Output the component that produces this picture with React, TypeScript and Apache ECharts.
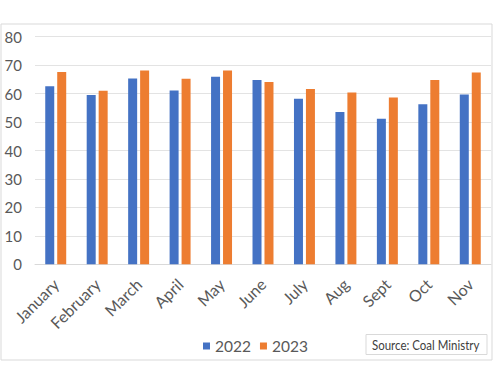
import React, { useEffect, useRef } from "react";
import * as echarts from "echarts";

const months = ["January", "February", "March", "April", "May", "June", "July", "Aug", "Sept", "Oct", "Nov"];
const values2022 = [62.6, 59.5, 65.3, 61.1, 65.9, 64.8, 58.2, 53.5, 51.2, 56.3, 59.7];
const values2023 = [67.6, 61.0, 68.1, 65.2, 68.1, 64.1, 61.6, 60.4, 58.6, 64.8, 67.4];
const yTicks = { min: 0, max: 80, interval: 10 };
const sourceText = "Source: Coal Ministry";

const FONT = "Lato, 'Open Sans', sans-serif";

export default function App() {
  const ref = useRef<HTMLDivElement>(null);
  useEffect(() => {
    if (!ref.current) return;
    const chart = echarts.init(ref.current, undefined, { renderer: "svg" });
    chart.setOption({
      animation: false,
      backgroundColor: "#ffffff",
      textStyle: { fontFamily: FONT },
      grid: { left: 35, right: 9, top: 36.7, bottom: 121.7, containLabel: false },
      legend: {
        data: ["2022", "2023"],
        left: 198,
        top: 333,
        icon: "rect",
        itemWidth: 7,
        itemHeight: 7,
        itemGap: 9,
        textStyle: { fontSize: 15.5, color: "#595959", fontFamily: FONT },
      },
      xAxis: {
        type: "category",
        data: months,
        axisLine: { show: true, lineStyle: { color: "#d9d9d9" } },
        axisTick: { show: false },
        axisLabel: { rotate: 45, color: "#595959", fontSize: 16, margin: 17, fontFamily: FONT, interval: 0 },
      },
      yAxis: {
        type: "value",
        min: yTicks.min,
        max: yTicks.max,
        interval: yTicks.interval,
        axisLine: { show: false },
        axisTick: { show: false },
        splitLine: { lineStyle: { color: "#e3e3e3" } },
        axisLabel: { color: "#595959", fontSize: 15, margin: 13, fontFamily: FONT },
      },
      series: [
        {
          name: "2022",
          type: "bar",
          data: values2022,
          barWidth: 9,
          barGap: "33%",
          itemStyle: { color: "#4472C4" },
        },
        {
          name: "2023",
          type: "bar",
          data: values2023,
          barWidth: 9,
          barGap: "33%",
          itemStyle: { color: "#ED7D31" },
        },
      ],
      graphic: [
        {
          type: "rect",
          shape: { x: 1, y: 24, width: 491, height: 336 },
          style: { fill: "none", stroke: "#d9d9d9", lineWidth: 1 },
          silent: true,
        },
        {
          type: "rect",
          shape: { x: 366, y: 334.5, width: 121, height: 20 },
          style: { fill: "#ffffff", stroke: "#d9d9d9", lineWidth: 1 },
          silent: true,
        },
        {
          type: "text",
          x: 372,
          y: 345,
          scaleX: 0.82,
          style: {
            text: sourceText,
            fill: "#404040",
            fontSize: 14,
            fontFamily: FONT,
            verticalAlign: "middle",
          },
          silent: true,
        },
      ],
    });
    return () => chart.dispose();
  }, []);
  return <div ref={ref} style={{ position: "absolute", left: 0, top: 0, width: 500, height: 386 }} />;
}
